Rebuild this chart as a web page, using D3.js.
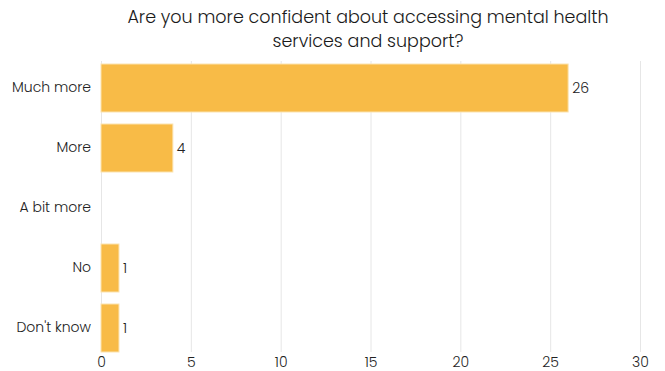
<!DOCTYPE html>
<html>
<head>
<meta charset="utf-8">
<script src="https://cdn.jsdelivr.net/npm/d3@7"></script>
<style>
  html, body { margin: 0; padding: 0; background: #fff; }
  text { font-family: "Poppins", "Inter", "Open Sans", sans-serif; }
</style>
</head>
<body>
<svg id="chart" width="665" height="371"></svg>
<script>
const titleLines = ["Are you more confident about accessing mental health", "services and support?"];
const categories = ["Much more", "More", "A bit more", "No", "Don't know"];
const counts = [26, 4, 0, 1, 1];
const xTicks = [0, 5, 10, 15, 20, 25, 30];

const FONT = "Poppins, Inter, 'Open Sans', sans-serif";
const svg = d3.select("#chart");
const x = d3.scaleLinear().domain([0, 30]).range([101, 640]);
const y = d3.scaleBand().domain(categories).range([58, 358]).paddingInner(0.2).paddingOuter(0.1);

// title
svg.append("g").selectAll("text").data(titleLines).join("text")
  .attr("x", 368).attr("y", (d, i) => 23 + i * 24)
  .attr("text-anchor", "middle")
  .attr("font-size", 17.5).attr("font-weight", 300).attr("fill", "#1a1a1a")
  .text(d => d);

// vertical gridlines
svg.append("g").selectAll("line").data(xTicks).join("line")
  .attr("x1", d => x(d) + 0.5).attr("x2", d => x(d) + 0.5)
  .attr("y1", 61).attr("y2", 352)
  .attr("stroke", "#e6e6e6").attr("stroke-width", 1);

// x axis tick labels
const xAxis = d3.axisBottom(x).tickValues(xTicks).tickSize(0).tickPadding(0);
const gx = svg.append("g").attr("transform", "translate(0,357)").call(xAxis);
gx.select(".domain").remove();
gx.selectAll("text").attr("font-size", 14).attr("font-weight", 300).attr("fill", "#222").attr("dy", "0.71em")
  .style("font-family", FONT);

// category labels
const yAxis = d3.axisLeft(y).tickSize(0).tickPadding(10);
const gy = svg.append("g").attr("transform", "translate(101,0)").call(yAxis);
gy.select(".domain").remove();
gy.selectAll("text").attr("font-size", 14).attr("font-weight", 300).attr("fill", "#222")
  .style("font-family", FONT);

// bars
const rows = categories.map((c, i) => ({ cat: c, val: counts[i] }));
svg.append("g").selectAll("rect").data(rows.filter(d => d.val > 0)).join("rect")
  .attr("x", x(0)).attr("y", d => y(d.cat))
  .attr("width", d => x(d.val) - x(0)).attr("height", y.bandwidth())
  .attr("fill", "#f8bb47").attr("stroke", "#fbe3b0").attr("stroke-width", 1);

// value labels
svg.append("g").selectAll("text").data(rows.filter(d => d.val > 0)).join("text")
  .attr("x", d => x(d.val) + 4).attr("y", d => y(d.cat) + y.bandwidth() / 2)
  .attr("dy", "0.35em").attr("font-size", 14).attr("font-weight", 300).attr("fill", "#222")
  .text(d => d.val);
</script>
</body>
</html>
